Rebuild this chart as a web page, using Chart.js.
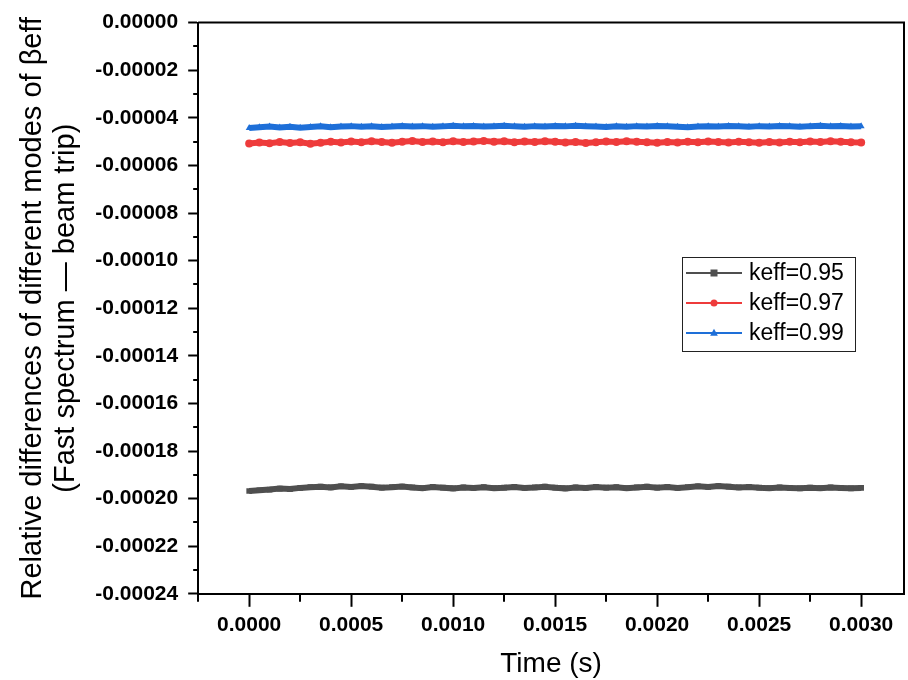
<!DOCTYPE html>
<html>
<head>
<meta charset="utf-8">
<script src="https://cdn.jsdelivr.net/npm/chart.js@4"></script>
<style>
  body { margin: 0; background: #fff; }
</style>
</head>
<body>
<canvas id="chart" width="908" height="680"></canvas>
<script>
// time (s) samples
timeValues = [
    0.00000, 0.00005, 0.00010, 0.00015, 0.00020, 0.00025, 0.00030, 0.00035, 0.00040, 0.00045,
    0.00050, 0.00055, 0.00060, 0.00065, 0.00070, 0.00075, 0.00080, 0.00085, 0.00090, 0.00095,
    0.00100, 0.00105, 0.00110, 0.00115, 0.00120, 0.00125, 0.00130, 0.00135, 0.00140, 0.00145,
    0.00150, 0.00155, 0.00160, 0.00165, 0.00170, 0.00175, 0.00180, 0.00185, 0.00190, 0.00195,
    0.00200, 0.00205, 0.00210, 0.00215, 0.00220, 0.00225, 0.00230, 0.00235, 0.00240, 0.00245,
    0.00250, 0.00255, 0.00260, 0.00265, 0.00270, 0.00275, 0.00280, 0.00285, 0.00290, 0.00295,
    0.00300
];

keff095 = [
    -0.0001968, -0.0001965, -0.0001962, -0.0001958, -0.0001960, -0.0001955, -0.0001952, -0.0001950, -0.0001953, -0.0001948,
    -0.0001951, -0.0001947, -0.0001950, -0.0001954, -0.0001952, -0.0001949, -0.0001953, -0.0001956, -0.0001951, -0.0001954,
    -0.0001957, -0.0001953, -0.0001955, -0.0001952, -0.0001956, -0.0001954, -0.0001951, -0.0001955, -0.0001953, -0.0001950,
    -0.0001954, -0.0001957, -0.0001953, -0.0001955, -0.0001951, -0.0001954, -0.0001952, -0.0001956, -0.0001953, -0.0001950,
    -0.0001954, -0.0001951, -0.0001955, -0.0001952, -0.0001948, -0.0001951, -0.0001947, -0.0001950, -0.0001953, -0.0001951,
    -0.0001954, -0.0001956, -0.0001953, -0.0001955, -0.0001957, -0.0001954, -0.0001956, -0.0001953, -0.0001955, -0.0001957,
    -0.0001955
];

keff097 = [
    -0.0000508, -0.0000504, -0.0000507, -0.0000502, -0.0000506, -0.0000503, -0.0000509, -0.0000505, -0.0000501, -0.0000504,
    -0.0000500, -0.0000503, -0.0000499, -0.0000502, -0.0000505, -0.0000501, -0.0000498, -0.0000502, -0.0000500, -0.0000503,
    -0.0000499, -0.0000502, -0.0000500, -0.0000497, -0.0000501, -0.0000499, -0.0000503, -0.0000500, -0.0000502, -0.0000499,
    -0.0000501, -0.0000504, -0.0000502, -0.0000506, -0.0000503, -0.0000500, -0.0000502, -0.0000499, -0.0000501, -0.0000503,
    -0.0000505, -0.0000502, -0.0000504, -0.0000501, -0.0000503, -0.0000500, -0.0000502, -0.0000504, -0.0000501, -0.0000503,
    -0.0000505, -0.0000502, -0.0000504, -0.0000501, -0.0000503, -0.0000500, -0.0000502, -0.0000499, -0.0000501, -0.0000503,
    -0.0000504
];

keff099 = [
    -0.0000443, -0.0000440, -0.0000437, -0.0000441, -0.0000438, -0.0000442, -0.0000439, -0.0000436, -0.0000440, -0.0000437,
    -0.0000435, -0.0000438, -0.0000436, -0.0000439, -0.0000437, -0.0000434, -0.0000437, -0.0000435, -0.0000438, -0.0000436,
    -0.0000433, -0.0000436, -0.0000434, -0.0000437, -0.0000435, -0.0000433, -0.0000436, -0.0000438, -0.0000435, -0.0000437,
    -0.0000434, -0.0000436, -0.0000433, -0.0000435, -0.0000437, -0.0000439, -0.0000436, -0.0000438, -0.0000435, -0.0000437,
    -0.0000434, -0.0000436, -0.0000438, -0.0000440, -0.0000437, -0.0000435, -0.0000437, -0.0000434, -0.0000436, -0.0000438,
    -0.0000435, -0.0000437, -0.0000434, -0.0000436, -0.0000438, -0.0000435, -0.0000433, -0.0000436, -0.0000434, -0.0000437,
    -0.0000436
];

seriesNames = ["keff=0.95", "keff=0.97", "keff=0.99"];
seriesColors = ["#4f4f4f", "#ee3b3b", "#1e6fd8"];
seriesMarkers = ["rect", "circle", "triangle"];

xTicks = [0, 0.0005, 0.0010, 0.0015, 0.0020, 0.0025, 0.0030];
xMinorTicks = [-0.00025, 0.00025, 0.00075, 0.00125, 0.00175, 0.00225, 0.00275];
yTicks = [0, -0.00002, -0.00004, -0.00006, -0.00008, -0.00010, -0.00012,
          -0.00014, -0.00016, -0.00018, -0.00020, -0.00022, -0.00024];
yMinorTicks = [-0.00001, -0.00003, -0.00005, -0.00007, -0.00009, -0.00011,
               -0.00013, -0.00015, -0.00017, -0.00019, -0.00021, -0.00023];

Chart.defaults.font.family = "'Liberation Sans', Arial, sans-serif";
Chart.defaults.color = "#000";

function toPoints(values) {
    return values.map((v, i) => ({ x: timeValues[i], y: v }));
}

function drawMarker(ctx, style, x, y, r) {
    ctx.beginPath();
    if (style === "rect") {
        ctx.rect(x - r, y - r, 2 * r, 2 * r);
    } else if (style === "circle") {
        ctx.arc(x, y, r, 0, Math.PI * 2);
    } else {
        ctx.moveTo(x, y - r * 1.2);
        ctx.lineTo(x + r * 1.1, y + r * 0.8);
        ctx.lineTo(x - r * 1.1, y + r * 0.8);
        ctx.closePath();
    }
    ctx.fill();
}

// frame on top/right, minor ticks, and the boxed legend
frameAndLegend = {
    id: "frameAndLegend",
    afterDraw(chart) {
        const ctx = chart.ctx;
        const area = chart.chartArea;
        const xs = chart.scales.x;
        const ys = chart.scales.y;
        ctx.save();
        ctx.strokeStyle = "#000";
        ctx.lineWidth = 2;
        ctx.beginPath();
        ctx.moveTo(area.left, area.top);
        ctx.lineTo(area.right, area.top);
        ctx.lineTo(area.right, area.bottom);
        ctx.stroke();

        ctx.beginPath();
        yMinorTicks.forEach(v => {
            const py = Math.round(ys.getPixelForValue(v));
            ctx.moveTo(area.left, py);
            ctx.lineTo(area.left - 5, py);
        });
        xMinorTicks.forEach(v => {
            const px = Math.round(xs.getPixelForValue(v));
            ctx.moveTo(px, area.bottom);
            ctx.lineTo(px, area.bottom + 8);
        });
        ctx.stroke();

        // legend box
        const bx = 682, by = 257, bw = 173, bh = 94;
        ctx.lineWidth = 1;
        ctx.strokeStyle = "#222";
        ctx.strokeRect(bx + 0.5, by + 0.5, bw, bh);
        ctx.font = "23px 'Liberation Sans', Arial, sans-serif";
        ctx.textBaseline = "middle";
        seriesNames.forEach((name, i) => {
            const ry = by + 16 + i * 30;
            ctx.strokeStyle = seriesColors[i];
            ctx.fillStyle = seriesColors[i];
            ctx.lineWidth = 2;
            ctx.beginPath();
            ctx.moveTo(bx + 4, ry);
            ctx.lineTo(bx + 60, ry);
            ctx.stroke();
            drawMarker(ctx, seriesMarkers[i], bx + 32, ry, 3.5);
            ctx.fillStyle = "#000";
            ctx.fillText(name, bx + 67, ry + 1);
        });
        ctx.restore();
    }
};

new Chart(document.getElementById("chart"), {
    type: "line",
    data: {
        datasets: seriesNames.map((name, i) => ({
            label: name,
            data: toPoints([keff095, keff097, keff099][i]),
            borderColor: seriesColors[i],
            backgroundColor: seriesColors[i],
            borderWidth: 6,
            pointStyle: seriesMarkers[i],
            pointRadius: 4,
            pointBorderWidth: 0,
            tension: 0
        }))
    },
    options: {
        responsive: false,
        animation: false,
        layout: { padding: { left: 2, top: 20, right: 0, bottom: 2 } },
        plugins: {
            legend: { display: false },
            tooltip: { enabled: false }
        },
        scales: {
            x: {
                type: "linear",
                min: -0.00025,
                max: 0.00321,
                afterBuildTicks: scale => { scale.ticks = xTicks.map(v => ({ value: v })); },
                ticks: {
                    callback: v => v.toFixed(4),
                    font: { size: 21, weight: "bold" },
                    padding: 6,
                    maxRotation: 0
                },
                grid: {
                    drawOnChartArea: false,
                    tickLength: 13,
                    tickWidth: 2,
                    tickColor: "#000"
                },
                border: { color: "#000", width: 2 },
                title: {
                    display: true,
                    text: "Time (s)",
                    font: { size: 28, lineHeight: 1.0 },
                    padding: { top: 6, bottom: 0 }
                }
            },
            y: {
                type: "linear",
                min: -0.00024,
                max: 0,
                afterBuildTicks: scale => { scale.ticks = yTicks.map(v => ({ value: v })); },
                ticks: {
                    callback: v => v.toFixed(5),
                    font: { size: 21, weight: "bold" },
                    padding: 10
                },
                grid: {
                    drawOnChartArea: false,
                    tickLength: 10,
                    tickWidth: 2,
                    tickColor: "#000"
                },
                border: { color: "#000", width: 2 },
                title: {
                    display: true,
                    text: ["Relative differences of different modes of βeff",
                           "(Fast spectrum — beam trip)"],
                    font: { size: 29, lineHeight: 1.16 },
                    padding: { top: 14, bottom: 2 }
                }
            }
        }
    },
    plugins: [frameAndLegend]
});
</script>
</body>
</html>
